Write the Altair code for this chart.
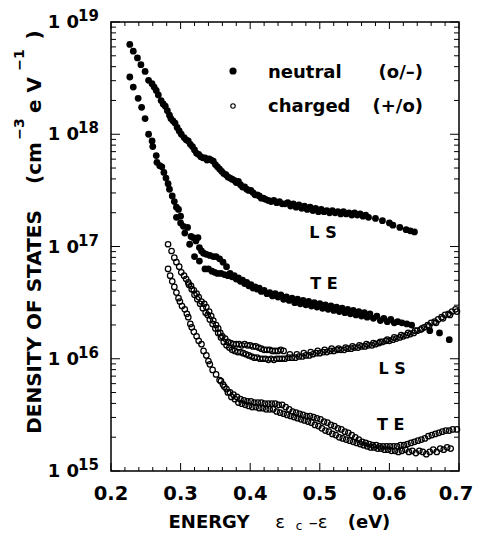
import altair as alt
import pandas as pd

FONT = "DejaVu Sans"

# ---------------- data (energy in eV, log10 of density of states) ----------------
ls_neutral_energy = [0.227, 0.232, 0.238, 0.243, 0.249, 0.254, 0.259, 0.262, 0.265, 0.268,
                     0.272, 0.275, 0.278, 0.281, 0.284, 0.286, 0.289, 0.292, 0.295, 0.298,
                     0.301, 0.305, 0.308, 0.311, 0.314, 0.317, 0.320, 0.323, 0.326, 0.329,
                     0.332, 0.335, 0.338, 0.341, 0.344, 0.347, 0.350, 0.353, 0.356, 0.359,
                     0.362, 0.365, 0.368, 0.371, 0.374, 0.377, 0.380, 0.383, 0.386, 0.389,
                     0.392, 0.395, 0.398, 0.401, 0.404, 0.407, 0.410, 0.413, 0.416, 0.419,
                     0.422, 0.426, 0.430, 0.434, 0.438, 0.442, 0.446, 0.450, 0.454, 0.458,
                     0.462, 0.466, 0.470, 0.474, 0.478, 0.482, 0.486, 0.490, 0.494, 0.498,
                     0.502, 0.506, 0.510, 0.514, 0.518, 0.522, 0.526, 0.530, 0.534, 0.538,
                     0.542, 0.546, 0.550, 0.554, 0.558, 0.562, 0.566, 0.570, 0.580, 0.590,
                     0.600, 0.605, 0.615, 0.624, 0.630, 0.636]
ls_neutral_logdos = [18.80, 18.74, 18.68, 18.62, 18.56, 18.48, 18.45, 18.42, 18.39, 18.35,
                     18.30, 18.27, 18.25, 18.21, 18.17, 18.14, 18.12, 18.10, 18.06, 18.03,
                     18.00, 17.97, 17.95, 17.94, 17.91, 17.89, 17.86, 17.83, 17.82, 17.80,
                     17.79, 17.79, 17.77, 17.78, 17.77, 17.76, 17.73, 17.71, 17.69, 17.67,
                     17.65, 17.64, 17.62, 17.61, 17.60, 17.59, 17.57, 17.58, 17.55, 17.53,
                     17.53, 17.51, 17.50, 17.50, 17.48, 17.46, 17.46, 17.45, 17.43, 17.43,
                     17.42, 17.41, 17.40, 17.41, 17.39, 17.40, 17.38, 17.38, 17.39, 17.36,
                     17.38, 17.35, 17.37, 17.34, 17.36, 17.33, 17.35, 17.32, 17.34, 17.31,
                     17.33, 17.31, 17.32, 17.30, 17.32, 17.30, 17.31, 17.29, 17.31, 17.29,
                     17.30, 17.28, 17.30, 17.28, 17.29, 17.27, 17.28, 17.26, 17.25, 17.23,
                     17.21, 17.19, 17.17, 17.15, 17.14, 17.13]

te_neutral_energy = [0.227, 0.232, 0.239, 0.244, 0.249, 0.254, 0.259, 0.260, 0.265, 0.266,
                     0.270, 0.273, 0.276, 0.279, 0.282, 0.284, 0.288, 0.291, 0.294, 0.297,
                     0.294, 0.300, 0.300, 0.304, 0.306, 0.310, 0.313, 0.315, 0.318, 0.320,
                     0.322, 0.325, 0.327, 0.327, 0.330, 0.333, 0.335, 0.337, 0.340, 0.342,
                     0.345, 0.347, 0.349, 0.351, 0.353, 0.356, 0.358, 0.361, 0.363, 0.366,
                     0.368, 0.371, 0.374, 0.377, 0.380, 0.383, 0.386, 0.389, 0.392, 0.395,
                     0.398, 0.401, 0.404, 0.407, 0.410, 0.413, 0.416, 0.420, 0.424, 0.428,
                     0.432, 0.436, 0.440, 0.444, 0.448, 0.452, 0.456, 0.460, 0.464, 0.468,
                     0.472, 0.476, 0.480, 0.484, 0.488, 0.492, 0.496, 0.500, 0.504, 0.508,
                     0.512, 0.516, 0.520, 0.524, 0.528, 0.532, 0.536, 0.540, 0.544, 0.548,
                     0.552, 0.556, 0.560, 0.564, 0.568, 0.572, 0.577, 0.582, 0.587, 0.592,
                     0.597, 0.602, 0.607, 0.612, 0.618, 0.625, 0.632, 0.658, 0.672, 0.686]
te_neutral_logdos = [18.51, 18.42, 18.32, 18.24, 18.14, 18.00, 17.94, 17.89, 17.81, 17.75,
                     17.72, 17.71, 17.66, 17.61, 17.56, 17.51, 17.45, 17.40, 17.35, 17.33,
                     17.26, 17.27, 17.21, 17.18, 17.12, 17.17, 17.02, 17.09, 17.08, 16.91,
                     17.05, 17.08, 16.99, 16.87, 16.96, 16.94, 16.80, 16.93, 16.80, 16.92,
                     16.78, 16.91, 16.77, 16.91, 16.76, 16.89, 16.76, 16.86, 16.75, 16.82,
                     16.74, 16.76, 16.73, 16.74, 16.71, 16.72, 16.69, 16.70, 16.67, 16.68,
                     16.65, 16.66, 16.63, 16.64, 16.62, 16.63, 16.60, 16.61, 16.58, 16.59,
                     16.56, 16.58, 16.55, 16.57, 16.53, 16.55, 16.52, 16.54, 16.50, 16.53,
                     16.49, 16.52, 16.48, 16.51, 16.47, 16.50, 16.46, 16.49, 16.45, 16.48,
                     16.44, 16.47, 16.43, 16.46, 16.42, 16.45, 16.41, 16.44, 16.40, 16.43,
                     16.39, 16.42, 16.38, 16.41, 16.37, 16.40, 16.36, 16.38, 16.34, 16.36,
                     16.33, 16.35, 16.32, 16.33, 16.32, 16.31, 16.30, 16.25, 16.23, 16.17]

ls_charged_energy = [0.282, 0.287, 0.291, 0.294, 0.298, 0.301, 0.305, 0.308, 0.311, 0.315,
                     0.319, 0.323, 0.326, 0.330, 0.334, 0.337, 0.341, 0.344, 0.347, 0.351,
                     0.354, 0.357, 0.360, 0.364, 0.368, 0.372, 0.376, 0.380, 0.384, 0.388,
                     0.392, 0.396, 0.400, 0.404, 0.408, 0.412, 0.416, 0.420, 0.424, 0.428,
                     0.432, 0.436, 0.440, 0.444, 0.448, 0.457, 0.467, 0.477, 0.487, 0.497,
                     0.507, 0.517, 0.527, 0.537, 0.547, 0.557, 0.567, 0.577, 0.587, 0.597,
                     0.607, 0.617, 0.627, 0.637, 0.647, 0.657, 0.667, 0.677, 0.687, 0.697,
                     0.312, 0.316, 0.320, 0.324, 0.328, 0.332, 0.336, 0.339, 0.342, 0.346,
                     0.350, 0.354, 0.358, 0.362, 0.366, 0.370, 0.374, 0.378, 0.382, 0.386,
                     0.390, 0.394, 0.398, 0.402, 0.406, 0.410, 0.414, 0.418, 0.422, 0.426,
                     0.430, 0.434, 0.438, 0.442, 0.446, 0.450, 0.455, 0.460, 0.465, 0.470,
                     0.475, 0.480, 0.485, 0.490, 0.495, 0.500, 0.505, 0.510, 0.515, 0.520,
                     0.525, 0.530, 0.535, 0.540, 0.545, 0.550, 0.555, 0.560, 0.565, 0.570,
                     0.575, 0.580, 0.585, 0.590, 0.595, 0.600, 0.605, 0.610, 0.615, 0.620,
                     0.625, 0.630, 0.635, 0.640, 0.645, 0.650, 0.655, 0.660, 0.665, 0.670,
                     0.675, 0.680, 0.685, 0.690, 0.695]
ls_charged_logdos = [17.02, 16.96, 16.90, 16.86, 16.82, 16.77, 16.74, 16.71, 16.68, 16.65,
                     16.61, 16.58, 16.55, 16.51, 16.49, 16.46, 16.42, 16.38, 16.34, 16.30,
                     16.27, 16.23, 16.20, 16.18, 16.15, 16.14, 16.13, 16.13, 16.13, 16.12,
                     16.13, 16.12, 16.12, 16.11, 16.11, 16.10, 16.09, 16.08, 16.08, 16.08,
                     16.07, 16.07, 16.07, 16.08, 16.07, 16.04, 16.04, 16.05, 16.06, 16.07,
                     16.08, 16.09, 16.09, 16.10, 16.11, 16.12, 16.13, 16.14, 16.15, 16.17,
                     16.19, 16.21, 16.23, 16.25, 16.27, 16.29, 16.32, 16.36, 16.39, 16.42,
                     16.66, 16.62, 16.57, 16.53, 16.49, 16.45, 16.41, 16.39, 16.35, 16.31,
                     16.27, 16.23, 16.19, 16.15, 16.12, 16.10, 16.08, 16.07, 16.06, 16.06,
                     16.05, 16.04, 16.03, 16.02, 16.01, 16.01, 16.00, 16.00, 16.00, 15.99,
                     16.00, 15.99, 16.00, 16.00, 16.00, 16.00, 16.01, 16.01, 16.01, 16.02,
                     16.02, 16.03, 16.03, 16.04, 16.05, 16.05, 16.06, 16.06, 16.07, 16.07,
                     16.08, 16.08, 16.08, 16.09, 16.09, 16.10, 16.10, 16.11, 16.11, 16.12,
                     16.12, 16.13, 16.14, 16.15, 16.16, 16.16, 16.17, 16.18, 16.19, 16.20,
                     16.21, 16.22, 16.23, 16.25, 16.26, 16.28, 16.30, 16.32, 16.33, 16.35,
                     16.37, 16.39, 16.40, 16.42, 16.44]

te_charged_energy = [0.282, 0.285, 0.288, 0.291, 0.294, 0.297, 0.299, 0.302, 0.306, 0.309,
                     0.311, 0.314, 0.316, 0.319, 0.323, 0.326, 0.330, 0.333, 0.337, 0.340,
                     0.342, 0.346, 0.351, 0.356, 0.361, 0.366, 0.371, 0.376, 0.381, 0.386,
                     0.391, 0.396, 0.401, 0.406, 0.411, 0.416, 0.421, 0.426, 0.431, 0.436,
                     0.441, 0.446, 0.451, 0.456, 0.461, 0.466, 0.471, 0.476, 0.481, 0.486,
                     0.491, 0.496, 0.501, 0.506, 0.511, 0.516, 0.521, 0.526, 0.531, 0.536,
                     0.541, 0.546, 0.551, 0.556, 0.561, 0.566, 0.571, 0.576, 0.581, 0.586,
                     0.591, 0.596, 0.601, 0.606, 0.611, 0.616, 0.621, 0.626, 0.631, 0.636,
                     0.641, 0.646, 0.651, 0.656, 0.661, 0.666, 0.671, 0.676, 0.681, 0.686,
                     0.691, 0.697,
                     0.358, 0.363, 0.368, 0.373, 0.378, 0.383, 0.388, 0.393, 0.398, 0.403,
                     0.408, 0.413, 0.418, 0.423, 0.428, 0.433, 0.438, 0.443, 0.448, 0.453,
                     0.458, 0.463, 0.468, 0.473, 0.478, 0.483, 0.488, 0.493, 0.498, 0.503,
                     0.508, 0.513, 0.518, 0.523, 0.528, 0.533, 0.538, 0.543, 0.548, 0.553,
                     0.558, 0.563, 0.568, 0.573, 0.578, 0.583, 0.588, 0.593, 0.598, 0.603,
                     0.608, 0.613, 0.618, 0.623, 0.628, 0.633, 0.638, 0.643, 0.648, 0.653,
                     0.658, 0.663, 0.668, 0.673, 0.678, 0.683, 0.688]
te_charged_logdos = [16.80, 16.74, 16.69, 16.64, 16.59, 16.54, 16.51, 16.47, 16.44, 16.40,
                     16.37, 16.31, 16.28, 16.24, 16.20, 16.16, 16.13, 16.07, 16.03, 15.98,
                     15.95, 15.90, 15.86, 15.81, 15.77, 15.73, 15.70, 15.68, 15.66, 15.64,
                     15.63, 15.62, 15.62, 15.61, 15.61, 15.61, 15.60, 15.60, 15.60, 15.60,
                     15.59, 15.59, 15.57, 15.55, 15.53, 15.52, 15.51, 15.50, 15.49, 15.49,
                     15.48, 15.47, 15.46, 15.44, 15.43, 15.41, 15.40, 15.38, 15.37, 15.35,
                     15.34, 15.32, 15.30, 15.28, 15.26, 15.25, 15.24, 15.23, 15.23, 15.22,
                     15.22, 15.22, 15.22, 15.22, 15.22, 15.23, 15.23, 15.24, 15.25, 15.26,
                     15.27, 15.28, 15.29, 15.31, 15.32, 15.33, 15.34, 15.35, 15.36, 15.36,
                     15.37, 15.37,
                     15.80, 15.75, 15.70, 15.66, 15.64, 15.61, 15.60, 15.59, 15.58, 15.57,
                     15.57, 15.56, 15.56, 15.55, 15.55, 15.55, 15.53, 15.52, 15.51, 15.50,
                     15.49, 15.48, 15.47, 15.46, 15.45, 15.44, 15.43, 15.41, 15.40, 15.38,
                     15.36, 15.35, 15.33, 15.32, 15.30, 15.29, 15.28, 15.27, 15.26, 15.25,
                     15.24, 15.23, 15.22, 15.21, 15.21, 15.20, 15.20, 15.19, 15.19, 15.18,
                     15.18, 15.17, 15.18, 15.19, 15.17, 15.18, 15.16, 15.18, 15.17, 15.15,
                     15.17, 15.19, 15.17, 15.20, 15.19, 15.21, 15.20]

# curve annotations
ann_text = ["L S", "T E", "L S", "T E"]
ann_energy = [0.5046, 0.506, 0.604, 0.602]
ann_logdos = [17.116, 16.667, 15.911, 15.413]

# axis ticks and labels
x_major = [0.2, 0.3, 0.4, 0.5, 0.6, 0.7]
x_minor = [0.22, 0.24, 0.26, 0.28, 0.32, 0.34, 0.36, 0.38, 0.42, 0.44, 0.46, 0.48,
           0.52, 0.54, 0.56, 0.58, 0.62, 0.64, 0.66, 0.68]
x_labels = ["0.2", "0.3", "0.4", "0.5", "0.6", "0.7"]
y_major = [1e15, 1e16, 1e17, 1e18, 1e19]
y_minor = [k * 10.0 ** e for e in (15, 16, 17, 18) for k in (2, 3, 4, 5, 6, 7, 8, 9)]
y_label_base = ["1 0", "1 0", "1 0", "1 0", "1 0"]
y_label_exp = ["15", "16", "17", "18", "19"]

legend_names = ["neutral", "charged"]
legend_states = ["(o/\u2013)", "(+/o)"]

# ---------------- frames ----------------
def series(energy, logdos, name):
    return pd.DataFrame({"energy": energy, "dos": [10.0 ** v for v in logdos], "curve": name})

neutral_df = pd.concat([series(ls_neutral_energy, ls_neutral_logdos, "LS"),
                        series(te_neutral_energy, te_neutral_logdos, "TE")])
charged_df = pd.concat([series(ls_charged_energy, ls_charged_logdos, "LS"),
                        series(te_charged_energy, te_charged_logdos, "TE")])
ann_df = pd.DataFrame({"energy": ann_energy, "dos": [10.0 ** v for v in ann_logdos], "t": ann_text})

W, H = 348, 449
XS = alt.Scale(domain=[0.2, 0.7], nice=False, zero=False)
YS = alt.Scale(type="log", domain=[1e15, 1e19], nice=False)
X = alt.X("energy:Q", scale=XS, axis=None)
Y = alt.Y("dos:Q", scale=YS, axis=None)

neutral = alt.Chart(neutral_df).mark_point(shape="circle", filled=True, size=46,
                                           color="black", opacity=1).encode(x=X, y=Y)
charged = alt.Chart(charged_df).mark_point(shape="circle", filled=False, size=30,
                                           stroke="black", strokeWidth=1.25, opacity=1).encode(x=X, y=Y)

def yticks(vals, a, b):
    return alt.Chart(pd.DataFrame({"dos": vals})).mark_rule(color="black", strokeWidth=1).encode(
        y=Y, x=alt.value(a), x2=alt.value(b))

def xticks(vals, a, b):
    return alt.Chart(pd.DataFrame({"energy": vals})).mark_rule(color="black", strokeWidth=1).encode(
        x=X, y=alt.value(a), y2=alt.value(b))

ticks = [
    yticks(y_major, 0, 9), yticks(y_minor, 0, 5),
    yticks(y_major, W, W - 9), yticks(y_minor, W, W - 5),
    xticks(x_major, H, H - 8), xticks(x_minor, H, H - 4),
    xticks(x_major, 0, 7), xticks(x_minor, 0, 4),
]

xlab_df = pd.DataFrame({"energy": x_major, "t": x_labels})
xlab = alt.Chart(xlab_df.iloc[:-1]).mark_text(
    font=FONT, fontWeight="bold", fontSize=19.5, align="center", baseline="alphabetic", color="black"
).encode(x=X, y=alt.value(478), text="t:N")
xlab_last = alt.Chart(xlab_df.iloc[-1:]).mark_text(
    font=FONT, fontWeight="bold", fontSize=19.5, align="center", baseline="alphabetic", color="black",
    dx=-3
).encode(x=X, y=alt.value(478), text="t:N")

ylab_df = pd.DataFrame({"dos": y_major, "b": y_label_base, "e": y_label_exp})
ylab = alt.Chart(ylab_df).mark_text(font=FONT, fontWeight="bold", fontSize=18, align="right",
                                    baseline="middle", dy=1, color="black").encode(
    y=Y, x=alt.value(-32), text="b:N")
yexp = alt.Chart(ylab_df).mark_text(font=FONT, fontWeight="bold", fontSize=15, align="left",
                                    baseline="middle", dy=-6, color="black").encode(
    y=Y, x=alt.value(-33), text="e:N")

ann = alt.Chart(ann_df).mark_text(font=FONT, fontWeight="bold", fontSize=16, align="center",
                                  baseline="middle", color="black").encode(x=X, y=Y, text="t:N")

one = pd.DataFrame({"k": [0]})

def label(text, x, y, size=18, align="left", angle=0, baseline="alphabetic", weight="bold"):
    return alt.Chart(one).mark_text(text=text, font=FONT, fontWeight=weight, fontSize=size,
                                    align=align, baseline=baseline, angle=angle,
                                    color="black").encode(x=alt.value(x), y=alt.value(y))

# legend
legend = [
    alt.Chart(one).mark_point(shape="circle", filled=True, size=52, color="black", opacity=1).encode(
        x=alt.value(122), y=alt.value(49)),
    alt.Chart(one).mark_point(shape="circle", filled=False, size=20, stroke="black",
                              strokeWidth=1.1, opacity=1).encode(x=alt.value(122), y=alt.value(84)),
    label(legend_names[0], 157, 56),
    label(legend_states[0], 312, 56, align="right"),
    label(legend_names[1], 157, 90),
    label(legend_states[1], 312, 90, align="right"),
]

# y title (rotated, pieces)
ytitle = [
    label("DENSITY OF STATES", -76, 300, size=20, align="center", angle=270, baseline="middle"),
    label("(cm", -76, 141, size=20, align="center", angle=270, baseline="middle"),
    label("\u22123", -91, 107, size=14, align="center", angle=270, baseline="middle"),
    label("e V", -76, 73, size=20, align="center", angle=270, baseline="middle"),
    label("\u22121", -91, 38, size=14, align="center", angle=270, baseline="middle"),
    label(")", -76, 13, size=20, align="center", angle=270, baseline="middle"),
]

# x title (pieces)
xtitle = [
    label("ENERGY", 98, 506, size=18, align="center"),
    label("\u03b5", 169, 506, size=18, align="center", weight="normal"),
    label("c", 188, 508, size=12, align="center", weight="normal"),
    label("\u2013\u03b5", 207, 506, size=18, align="center", weight="normal"),
    label("(eV)", 258, 506, size=18, align="center"),
]

chart = alt.layer(
    *ticks, neutral, charged, xlab, xlab_last, ylab, yexp, ann, *legend, *ytitle, *xtitle
).properties(
    width=W, height=H,
    autosize=alt.AutoSizeParams(type="none"),
    padding={"left": 103, "top": 14, "right": 15, "bottom": 62},
    background="white",
).configure_view(stroke="black", strokeWidth=1.5)

chart.save("out.html", embed_options={"renderer": "svg", "actions": False})
